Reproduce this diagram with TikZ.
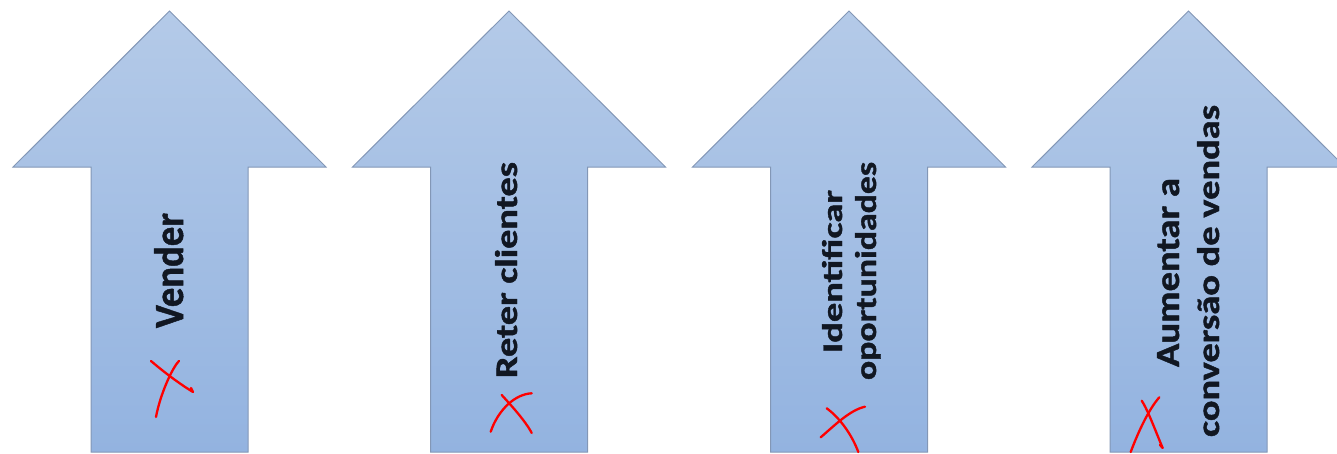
\documentclass[tikz,border=0pt]{standalone}
\usepackage{fontspec}
\setmainfont{Carlito}[BoldFeatures={FakeBold=1.2}]
\definecolor{arrowtop}{HTML}{B4CAE8}
\definecolor{arrowbot}{HTML}{93B3E0}
\definecolor{arrowedge}{HTML}{8397B6}
\definecolor{labelink}{HTML}{111722}
\begin{document}
\begin{tikzpicture}[x=1pt,y=-1pt,
  uparrow/.style={top color=arrowtop, bottom color=arrowbot, draw=arrowedge, line width=1pt, line join=miter},
  label/.style={rotate=90, anchor=base, inner sep=0pt, text=labelink, font=\bfseries},
  tick/.style={draw=red, line width=2.3pt, line cap=round, line join=round}]
\useasboundingbox (0,0) rectangle (1337,453);
\clip (0,0) rectangle (1337,453);

% four block arrows pointing up
\foreach \cx in {169.5, 509, 849, 1188.5}{
  \path[uparrow] (\cx,11) -- (\cx+156.5,167) -- (\cx+78.5,167) -- (\cx+78.5,452)
        -- (\cx-78.5,452) -- (\cx-78.5,167) -- (\cx-156.5,167) -- cycle;
}

% labels, set along the shafts
\node[label] (t1) at (183,270.5) {\resizebox{115pt}{29pt}{Vender}};
\node[label] (t2) at (517,270) {\resizebox{216pt}{22pt}{Reter clientes}};
\node[label] (t3a) at (842,271.5) {\resizebox{163pt}{20pt}{Identificar}};
\node[label] (t3b) at (876,271) {\resizebox{218pt}{21pt}{oportunidades}};
\node[label] (t4a) at (1179,272.5) {\resizebox{189pt}{22pt}{Aumentar a}};
\node[label] (t4b) at (1219,271) {\resizebox{332pt}{22pt}{conversão de vendas}};

% hand-drawn red crosses
\draw[tick] (151,361) .. controls (158,367) and (175,381) .. (193,392) -- (191,388);
\draw[tick] (179,361) .. controls (172,368) and (160,395) .. (156,417);

\draw[tick] (501.7,395) .. controls (508,402) and (525,420) .. (531.7,433);
\draw[tick] (531.7,393.3) .. controls (515,394) and (498,410) .. (490.7,431.7);

\draw[tick] (826.7,408.3) .. controls (840,418) and (852,435) .. (858.3,452);
\draw[tick] (865,406.7) .. controls (850,410) and (835,425) .. (820.7,437.3);

\draw[tick] (1141.7,400.7) .. controls (1148,410) and (1157,435) .. (1162.7,448) -- (1160,445);
\draw[tick] (1159.3,397.3) .. controls (1148,410) and (1137,435) .. (1130.7,452);
\end{tikzpicture}
\end{document}
